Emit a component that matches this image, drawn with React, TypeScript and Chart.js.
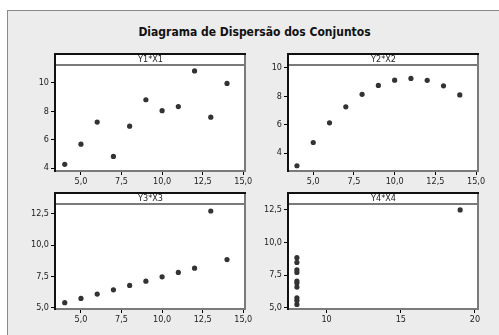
import React, { useEffect, useRef } from "react";
import { Chart, registerables } from "chart.js";
Chart.register(...registerables);

// ---- Data (Anscombe's quartet) ----
const X123 = [10, 8, 13, 9, 11, 14, 6, 4, 12, 7, 5];
const Y1 = [8.04, 6.95, 7.58, 8.81, 8.33, 9.96, 7.24, 4.26, 10.84, 4.82, 5.68];
const Y2 = [9.14, 8.14, 8.74, 8.77, 9.26, 8.1, 6.13, 3.1, 9.13, 7.26, 4.74];
const Y3 = [7.46, 6.77, 12.74, 7.11, 7.81, 8.84, 6.08, 5.39, 8.15, 6.42, 5.73];
const X4 = [8, 8, 8, 8, 8, 8, 8, 19, 8, 8, 8];
const Y4 = [6.58, 5.76, 7.71, 8.84, 8.47, 7.04, 5.25, 12.5, 5.56, 7.91, 6.89];

const xTicks123 = [5, 7.5, 10, 12.5, 15];
const xLabels123 = ["5,0", "7,5", "10,0", "12,5", "15,0"];
const yTicks12 = [4, 6, 8, 10];
const yLabels12 = ["4", "6", "8", "10"];
const yTicks34 = [5, 7.5, 10, 12.5];
const yLabels34 = ["5,0", "7,5", "10,0", "12,5"];
const xTicks4 = [10, 15, 20];
const xLabels4 = ["10", "15", "20"];

const panelTitles = ["Y1*X1", "Y2*X2", "Y3*X3", "Y4*X4"];
const mainTitle = "Diagrama de Dispersão dos Conjuntos";

const FONT = "'DejaVu Sans Condensed', 'DejaVu Sans', sans-serif";
const YW = 40;
const XH = 22;
const HD = 13;
const PR = 16;

type Cfg = {
  title: string;
  xs: number[];
  ys: number[];
  area: { l: number; t: number; r: number; b: number };
  xMin: number; xMax: number; yMin: number; yMax: number;
  xTicks: number[]; xLabels: string[]; yTicks: number[]; yLabels: string[];
};

const panels: Cfg[] = [
  { title: panelTitles[0], xs: X123, ys: Y1, area: { l: 55, t: 66, r: 246, b: 171 }, xMin: 3.4, xMax: 15.17, yMin: 3.79, yMax: 11.19, xTicks: xTicks123, xLabels: xLabels123, yTicks: yTicks12, yLabels: yLabels12 },
  { title: panelTitles[1], xs: X123, ys: Y2, area: { l: 288, t: 66, r: 479, b: 171 }, xMin: 3.45, xMax: 15.18, yMin: 2.73, yMax: 10.14, xTicks: xTicks123, xLabels: xLabels123, yTicks: yTicks12, yLabels: yLabels12 },
  { title: panelTitles[2], xs: X123, ys: Y3, area: { l: 55, t: 205, r: 246, b: 309 }, xMin: 3.4, xMax: 15.17, yMin: 4.88, yMax: 13.22, xTicks: xTicks123, xLabels: xLabels123, yTicks: yTicks34, yLabels: yLabels34 },
  { title: panelTitles[3], xs: X4, ys: Y4, area: { l: 288, t: 205, r: 479, b: 309 }, xMin: 7.4, xMax: 20.27, yMin: 4.9, yMax: 12.88, xTicks: xTicks4, xLabels: xLabels4, yTicks: yTicks34, yLabels: yLabels34 },
];

function framePlugin(title: string) {
  return {
    id: "frame",
    beforeDraw(chart: any) {
      const { ctx, chartArea: a } = chart;
      ctx.save();
      ctx.fillStyle = "#ffffff";
      ctx.fillRect(a.left, a.top - HD, a.right - a.left, a.bottom - a.top + HD);
      ctx.restore();
    },
    afterDraw(chart: any) {
      const { ctx, chartArea: a } = chart;
      ctx.save();
      // header divider
      ctx.fillStyle = "#7a7a7a";
      ctx.fillRect(a.left, a.top - 2, a.right - a.left, 2);
      // right & bottom gray
      ctx.fillRect(a.right - 2, a.top - HD, 2, a.bottom - a.top + HD);
      ctx.fillRect(a.left, a.bottom - 1, a.right - a.left, 2);
      // top & left black
      ctx.fillStyle = "#111111";
      ctx.fillRect(a.left, a.top - HD, a.right - a.left, 2);
      ctx.fillRect(a.left - 1, a.top - HD, 2, a.bottom - a.top + HD + 1);
      // header text
      ctx.fillStyle = "#222";
      ctx.font = `9px ${FONT}`;
      ctx.textAlign = "center";
      ctx.textBaseline = "middle";
      ctx.fillText(title, (a.left + a.right) / 2, a.top - HD / 2 + 0.5);
      ctx.restore();
    },
  };
}

function Panel({ cfg }: { cfg: Cfg }) {
  const ref = useRef<HTMLCanvasElement | null>(null);
  const { area } = cfg;
  const left = area.l - YW;
  const top = area.t - HD;
  const W = area.r - area.l + YW + PR;
  const H = area.b - area.t + HD + XH;

  useEffect(() => {
    const c = cfg;
    const tickFont = { family: FONT, size: 9 };
    const chart = new Chart(ref.current as HTMLCanvasElement, {
      type: "scatter",
      data: {
        datasets: [
          {
            data: c.xs.map((x, i) => ({ x, y: c.ys[i] })),
            backgroundColor: "#333333",
            borderColor: "#333333",
            borderWidth: 0,
            pointRadius: 2.6,
            pointHoverRadius: 2.6,
          },
        ],
      },
      options: {
        responsive: false,
        animation: false,
        events: [],
        layout: { padding: { top: HD, right: PR, left: 0, bottom: 0 } },
        plugins: { legend: { display: false }, tooltip: { enabled: false }, title: { display: false } },
        scales: {
          x: {
            type: "linear",
            min: c.xMin,
            max: c.xMax,
            afterBuildTicks: (s: any) => { s.ticks = c.xTicks.map((v) => ({ value: v })); },
            afterFit: (s: any) => { s.height = XH; },
            ticks: {
              callback: (v: any) => c.xLabels[c.xTicks.indexOf(Number(v))] ?? "",
              maxRotation: 0, minRotation: 0, autoSkip: false,
              font: tickFont, color: "#222", padding: 1,
            },
            grid: { drawOnChartArea: false, drawTicks: true, tickLength: 4, color: "#000", lineWidth: 1 },
            border: { display: false },
          },
          y: {
            type: "linear",
            min: c.yMin,
            max: c.yMax,
            afterBuildTicks: (s: any) => { s.ticks = c.yTicks.map((v) => ({ value: v })); },
            afterFit: (s: any) => { s.width = YW; },
            ticks: {
              callback: (v: any) => c.yLabels[c.yTicks.indexOf(Number(v))] ?? "",
              autoSkip: false,
              font: tickFont, color: "#222", padding: 2,
            },
            grid: { drawOnChartArea: false, drawTicks: true, tickLength: 4, color: "#000", lineWidth: 1 },
            border: { display: false },
          },
        },
      },
      plugins: [framePlugin(c.title)],
    } as any);
    return () => chart.destroy();
  }, []);

  return (
    <canvas
      ref={ref}
      width={W}
      height={H}
      style={{ position: "absolute", left, top, width: W, height: H }}
    />
  );
}

export default function App() {
  return (
    <div style={{ position: "absolute", left: 0, top: 0, width: 499, height: 335, background: "#ffffff", overflow: "hidden" }}>
      <div
        style={{
          position: "absolute", left: 7, top: 10, width: 500, height: 340,
          background: "#ececec", borderLeft: "1px solid #8a8a8a", borderTop: "1px solid #8a8a8a",
        }}
      />
      <div
        style={{
          position: "absolute", left: 0, top: 24, width: 509, textAlign: "center",
          fontFamily: FONT, fontWeight: "bold", fontSize: 12, color: "#111", lineHeight: "16px",
        }}
      >
        {mainTitle}
      </div>
      {panels.map((p, i) => (
        <Panel key={i} cfg={p} />
      ))}
    </div>
  );
}
